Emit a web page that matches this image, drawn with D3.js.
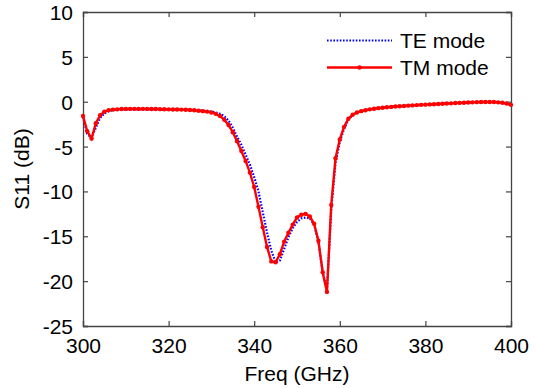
<!DOCTYPE html>
<html><head><meta charset="utf-8">
<script src="https://cdn.jsdelivr.net/npm/d3@7"></script>
<style>body{margin:0;background:#fff}text{font-family:"Liberation Sans",Arial,Helvetica,sans-serif;fill:#000}</style>
</head><body><svg id="c" width="539" height="388"></svg>
<script>
const freqStart = 300, freqStep = 1;
const tmValues = [-1.6,-3.3,-4.1,-2.4,-1.5,-1.1,-0.95,-0.88,-0.85,-0.82,
 -0.8,-0.8,-0.8,-0.8,-0.8,-0.8,-0.82,-0.82,-0.83,-0.84,
 -0.85,-0.86,-0.87,-0.88,-0.9,-0.92,-0.95,-1.0,-1.05,-1.1,
 -1.2,-1.35,-1.6,-2.0,-2.6,-3.4,-4.4,-5.5,-6.6,-7.9,
 -9.5,-11.7,-14.0,-16.2,-17.8,-17.9,-17.0,-15.6,-14.6,-13.7,
 -12.9,-12.6,-12.5,-12.8,-13.6,-15.5,-19.0,-21.2,-11.5,-6.3,
 -4.2,-2.8,-1.9,-1.45,-1.2,-1.05,-0.95,-0.85,-0.78,-0.72,
 -0.67,-0.62,-0.58,-0.54,-0.5,-0.47,-0.44,-0.41,-0.38,-0.35,
 -0.33,-0.3,-0.28,-0.25,-0.23,-0.2,-0.18,-0.15,-0.13,-0.11,
 -0.09,-0.07,-0.05,-0.04,-0.03,-0.03,-0.04,-0.07,-0.12,-0.2,-0.35];
const teValues = [-1.7,-3.6,-4.0,-2.9,-1.8,-1.3,-1.05,-0.95,-0.9,-0.87,
 -0.85,-0.85,-0.85,-0.85,-0.85,-0.85,-0.86,-0.86,-0.87,-0.88,
 -0.88,-0.89,-0.9,-0.9,-0.91,-0.92,-0.94,-0.97,-1.0,-1.04,
 -1.1,-1.2,-1.35,-1.6,-2.1,-2.9,-3.9,-4.8,-5.9,-7.0,
 -8.4,-10.0,-12.3,-14.6,-16.6,-17.9,-17.7,-16.4,-15.1,-14.1,
 -13.4,-13.0,-12.9,-13.0,-13.7,-15.6,-19.0,-21.0,-12.0,-6.8,
 -4.5,-3.0,-2.0,-1.5,-1.22,-1.06,-0.95,-0.85,-0.78,-0.72,
 -0.67,-0.62,-0.58,-0.54,-0.5,-0.47,-0.44,-0.41,-0.38,-0.35,
 -0.33,-0.3,-0.28,-0.25,-0.23,-0.2,-0.18,-0.15,-0.13,-0.11,
 -0.09,-0.07,-0.05,-0.04,-0.03,-0.03,-0.04,-0.07,-0.12,-0.2,-0.35];
const xTicks = [300,320,340,360,380,400];
const yTicks = [10,5,0,-5,-10,-15,-20,-25];
const seriesNames = ["TE mode","TM mode"];

const svg = d3.select("#c");
const L=83,R=511,T=12,B=326;
const x = d3.scaleLinear().domain([300,400]).range([L,R]);
const y = d3.scaleLinear().domain([-25,10]).range([B,T]);
const fs = 21;

const te = teValues.map((v,i)=>({f:freqStart+i*freqStep,v}));
const tm = tmValues.map((v,i)=>({f:freqStart+i*freqStep,v}));
const line = d3.line().x(d=>x(d.f)).y(d=>y(d.v));

const axCol="#444";
const fmt = d=>String(d);
const gB = svg.append("g").attr("transform",`translate(0,${B})`).call(d3.axisBottom(x).tickValues(xTicks).tickSize(-5).tickPadding(12).tickFormat(fmt));
const gT = svg.append("g").attr("transform",`translate(0,${T})`).call(d3.axisTop(x).tickValues(xTicks).tickSize(-5).tickFormat(""));
const gL = svg.append("g").attr("transform",`translate(${L},0)`).call(d3.axisLeft(y).tickValues(yTicks).tickSize(-5).tickPadding(10).tickFormat(fmt));
const gR = svg.append("g").attr("transform",`translate(${R},0)`).call(d3.axisRight(y).tickValues(yTicks).tickSize(-5).tickFormat(""));
[gB,gT,gL,gR].forEach(g=>{
  g.select(".domain").attr("stroke",axCol).attr("stroke-width",1.3);
  g.selectAll(".tick line").attr("stroke",axCol).attr("stroke-width",1.2);
  g.selectAll("text").attr("font-size",fs).attr("font-family","Liberation Sans, Arial, sans-serif").attr("fill","#000");
});
gL.selectAll(".tick text").attr("dy","0.36em");
gB.selectAll(".tick text").attr("dy","0.71em");

svg.append("path").datum(te).attr("d",line).attr("fill","none").attr("stroke","#0000ff").attr("stroke-width",2.2).attr("stroke-dasharray","1.6,1.6");
svg.append("path").datum(tm).attr("d",line).attr("fill","none").attr("stroke","#ff0000").attr("stroke-width",2.4);
svg.append("g").selectAll("circle").data(tm).join("circle").attr("cx",d=>x(d.f)).attr("cy",d=>y(d.v)).attr("r",2.2).attr("fill","#ff0000");

const lg = svg.append("g");
lg.append("line").attr("x1",327).attr("x2",392).attr("y1",40.5).attr("y2",40.5).attr("stroke","#0000ff").attr("stroke-width",2.2).attr("stroke-dasharray","1.6,1.6");
lg.append("line").attr("x1",327).attr("x2",392).attr("y1",67.5).attr("y2",67.5).attr("stroke","#ff0000").attr("stroke-width",2.4);
lg.append("circle").attr("cx",359.5).attr("cy",67.5).attr("r",2.2).attr("fill","#ff0000");
lg.append("text").attr("x",400).attr("y",48).attr("font-size",fs).text(seriesNames[0]);
lg.append("text").attr("x",400).attr("y",75).attr("font-size",fs).text(seriesNames[1]);

svg.append("text").attr("x",297).attr("y",381).attr("text-anchor","middle").attr("font-size",fs).text("Freq (GHz)");
svg.append("text").attr("transform","translate(29,169) rotate(-90)").attr("text-anchor","middle").attr("font-size",fs).text("S11 (dB)");
</script></body></html>
